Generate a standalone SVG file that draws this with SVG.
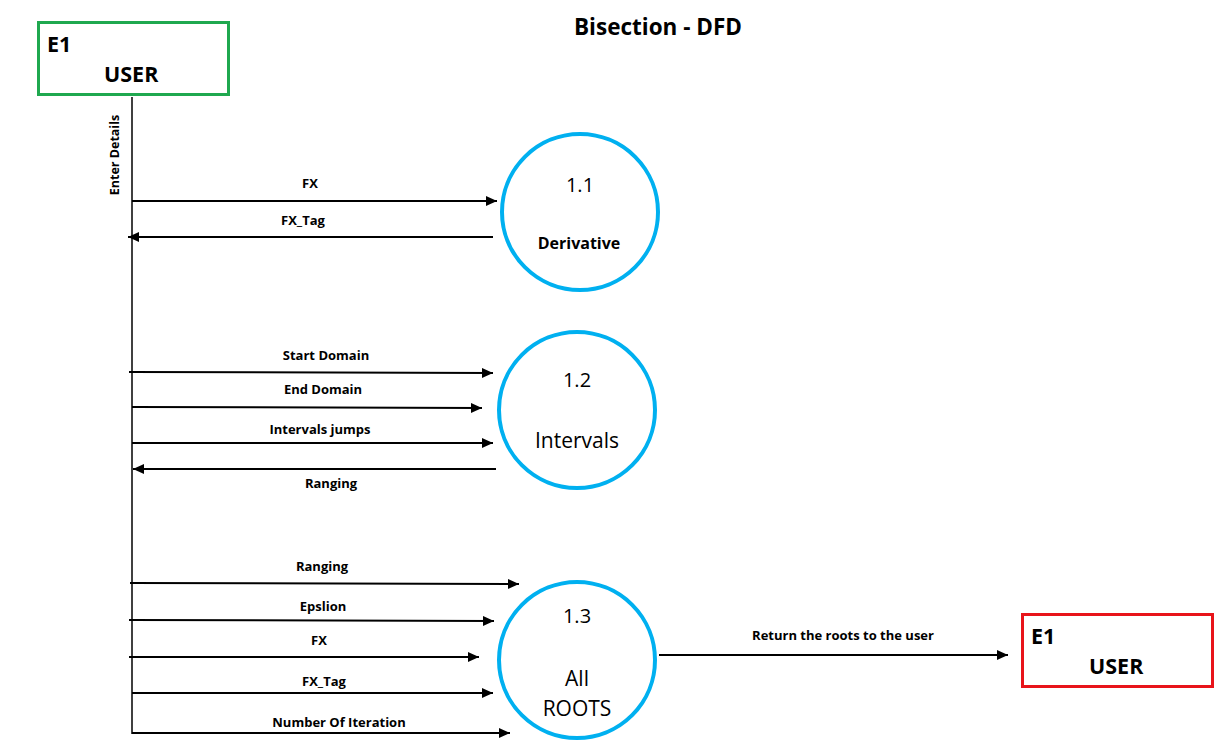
<svg xmlns="http://www.w3.org/2000/svg" width="1231" height="747" viewBox="0 0 1231 747">
<style>
.lbl{font-family:"Open Sans","Liberation Sans",sans-serif;font-weight:bold;font-size:13px;fill:#000;text-anchor:middle}
.flow{stroke:#000;stroke-width:2;fill:none;marker-end:url(#ah)}
.proc{fill:#fff;stroke:#00b0f0;stroke-width:4}
.num{font-family:"Open Sans","Liberation Sans",sans-serif;font-size:20px;fill:#000;text-anchor:middle}
.pname{font-family:"Open Sans","Liberation Sans",sans-serif;font-size:21px;fill:#000;text-anchor:middle}
.ent{font-family:"Open Sans","Liberation Sans",sans-serif;font-weight:bold;font-size:21.5px;fill:#000}
</style>
<defs>
<marker id="ah" markerUnits="userSpaceOnUse" markerWidth="12" markerHeight="10" refX="11" refY="5" orient="auto">
<path d="M0,0 L11,5 L0,10 Z" fill="#000"/>
</marker>
</defs>
<rect width="1231" height="747" fill="#fff"/>
<text x="658" y="35" class="ent" text-anchor="middle" style="font-size:22.5px">Bisection - DFD</text>

<g id="user-left">
<rect x="38.5" y="22.5" width="190" height="72" fill="#fff" stroke="#1fa84f" stroke-width="3"/>
<text x="47" y="52" class="ent">E1</text>
<text x="104" y="82" class="ent">USER</text>
</g>

<g id="user-right">
<rect x="1022.5" y="614.5" width="190" height="72" fill="#fff" stroke="#e8141a" stroke-width="3"/>
<text x="1031" y="644" class="ent">E1</text>
<text x="1089" y="674" class="ent">USER</text>
</g>

<g id="p11">
<circle cx="580" cy="212" r="78" class="proc"/>
<text x="580" y="192" class="num">1.1</text>
<text x="579" y="249" class="pname" style="font-size:16px;font-weight:bold">Derivative</text>
</g>

<g id="p12">
<circle cx="577" cy="410" r="78" class="proc"/>
<text x="577" y="387" class="num">1.2</text>
<text x="577" y="448" class="pname">Intervals</text>
</g>

<g id="p13">
<circle cx="577" cy="660" r="78" class="proc"/>
<text x="577" y="623" class="num">1.3</text>
<text x="577" y="686" class="pname">All</text>
<text x="577" y="716" class="pname">ROOTS</text>
</g>

<g id="connectors">
<line x1="132" y1="97" x2="132" y2="734" stroke="#000" stroke-width="1.5"/>
<text class="lbl" transform="translate(119,155) rotate(-90)" style="font-size:12.5px">Enter Details</text>

<line x1="132" y1="201" x2="497" y2="201" class="flow"/>
<text x="310" y="188" class="lbl">FX</text>
<line x1="493" y1="237" x2="128" y2="237" class="flow"/>
<text x="303" y="225" class="lbl">FX_Tag</text>

<line x1="129" y1="372" x2="493" y2="373" class="flow"/>
<text x="326" y="360" class="lbl">Start Domain</text>
<line x1="132" y1="407" x2="482" y2="408" class="flow"/>
<text x="323" y="394" class="lbl">End Domain</text>
<line x1="132" y1="443" x2="493" y2="443" class="flow"/>
<text x="320" y="434" class="lbl">Intervals jumps</text>
<line x1="496" y1="469" x2="133" y2="469" class="flow"/>
<text x="331" y="488" class="lbl">Ranging</text>

<line x1="130" y1="583" x2="519" y2="584" class="flow"/>
<text x="322" y="571" class="lbl">Ranging</text>
<line x1="129" y1="620" x2="494" y2="621" class="flow"/>
<text x="323" y="611" class="lbl">Epslion</text>
<line x1="129" y1="657" x2="479" y2="657" class="flow"/>
<text x="319" y="645" class="lbl">FX</text>
<line x1="132" y1="693" x2="493" y2="693" class="flow"/>
<text x="324" y="686" class="lbl">FX_Tag</text>
<line x1="132" y1="733" x2="510" y2="733" class="flow"/>
<text x="339" y="727" class="lbl">Number Of Iteration</text>

<line x1="659" y1="655" x2="1008" y2="655" class="flow"/>
<text x="843" y="640" class="lbl">Return the roots to the user</text>
</g>
</svg>
